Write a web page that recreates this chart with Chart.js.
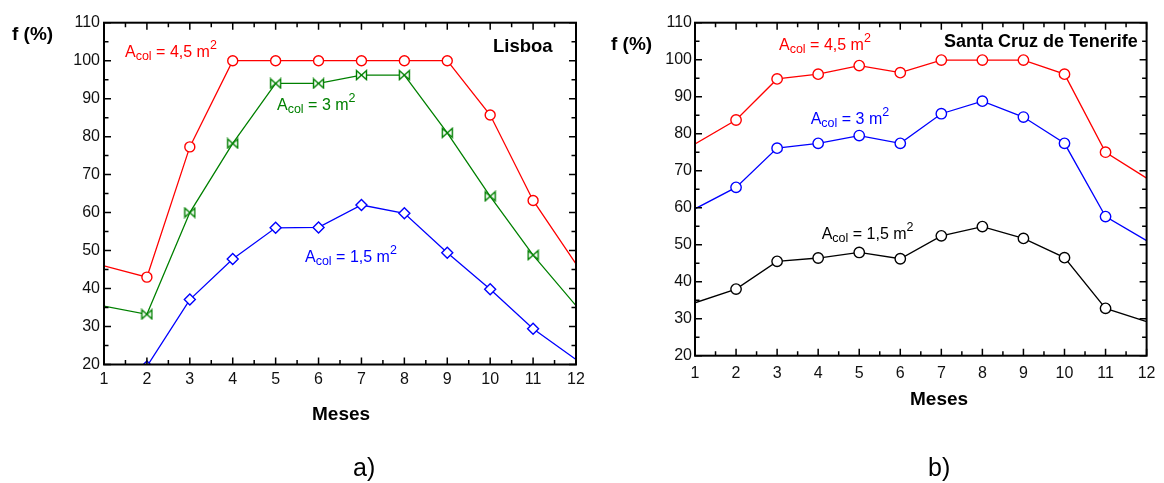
<!DOCTYPE html>
<html>
<head>
<meta charset="utf-8">
<script src="https://cdn.jsdelivr.net/npm/chart.js@4"></script>
<style>
  body { margin: 0; background: #fff; width: 1164px; height: 483px; position: relative; overflow: hidden;
         font-family: 'Liberation Sans', Arial, sans-serif; }
  .box { position: absolute; }
  .t { position: absolute; white-space: nowrap; line-height: 1; }
  .b { font-weight: bold; color: #000; }
  .ann { font-size: 16px; }
  .ann .sb { font-size: 12.5px; vertical-align: -2.5px; line-height: 0; }
  .ann .sp { font-size: 12.5px; vertical-align: 8px; line-height: 0; }
</style>
</head>
<body>
<div class="box" style="left:0;top:0;width:600px;height:440px"><canvas id="lis"></canvas></div>
<div class="box" style="left:590px;top:0;width:574px;height:440px"><canvas id="ten"></canvas></div>

<div class="t b" style="left:12px;top:23.9px;font-size:19px">f (%)</div>
<div class="t b" style="left:611px;top:33.9px;font-size:19px">f (%)</div>
<div class="t b" style="left:493px;top:36.5px;font-size:18.5px">Lisboa</div>
<div class="t b" style="left:944px;top:31.5px;font-size:18px">Santa Cruz de Tenerife</div>
<div class="t b" style="left:312px;top:403.9px;font-size:19px">Meses</div>
<div class="t b" style="left:910px;top:388.6px;font-size:19px">Meses</div>
<div class="t" style="left:353px;top:455px;font-size:25px;color:#000">a)</div>
<div class="t" style="left:928px;top:455px;font-size:25px;color:#000">b)</div>

<div class="t ann" style="left:125px;top:43.8px;color:#ff0000">A<span class="sb">col</span> = 4,5 m<span class="sp">2</span></div>
<div class="t ann" style="left:277px;top:96.5px;color:#008000">A<span class="sb">col</span> = 3 m<span class="sp">2</span></div>
<div class="t ann" style="left:305px;top:249px;color:#0000ff">A<span class="sb">col</span> = 1,5 m<span class="sp">2</span></div>
<div class="t ann" style="left:779px;top:36.5px;color:#ff0000">A<span class="sb">col</span> = 4,5 m<span class="sp">2</span></div>
<div class="t ann" style="left:810.7px;top:110.5px;color:#0000ff">A<span class="sb">col</span> = 3 m<span class="sp">2</span></div>
<div class="t ann" style="left:821.7px;top:225.8px;color:#000">A<span class="sb">col</span> = 1,5 m<span class="sp">2</span></div>

<script>
// meses
const months = [1, 2, 3, 4, 5, 6, 7, 8, 9, 10, 11, 12];
const yTicks = [20, 30, 40, 50, 60, 70, 80, 90, 100, 110];

// a) Lisboa
const lisboa45 = [46, 43, 77.3, 100, 100, 100, 100, 100, 100, 85.7, 63.2, 46.5];
const lisboa30 = [35.4, 33.2, 60, 78.2, 94, 94, 96.2, 96.2, 81, 64.3, 48.8, 35.5];
const lisboa15 = [17, 19.5, 37.1, 47.8, 56, 56.1, 62, 59.8, 49.4, 39.8, 29.4, 21.3];

// b) Santa Cruz de Tenerife
const tenerife45 = [77.2, 83.7, 94.8, 96.1, 98.4, 96.5, 99.9, 99.9, 99.9, 96.1, 75, 68];
const tenerife30 = [59.7, 65.5, 76.1, 77.4, 79.5, 77.4, 85.4, 88.8, 84.5, 77.4, 57.6, 51.1];
const tenerife15 = [34.3, 38, 45.5, 46.4, 47.9, 46.2, 52.4, 54.9, 51.7, 46.5, 32.8, 29.2];

const pts = vals => months.map((m, i) => ({ x: m, y: vals[i] }));

// bowtie marker for the green series
function bowtie(color) {
  const c = document.createElement('canvas');
  c.width = 13; c.height = 12;
  const g = c.getContext('2d');
  g.beginPath();
  g.moveTo(1.5, 1.5); g.lineTo(11.5, 10.5); g.lineTo(11.5, 1.5); g.lineTo(1.5, 10.5); g.closePath();
  g.fillStyle = '#fff'; g.fill();
  g.strokeStyle = color; g.lineWidth = 1.4; g.stroke();
  return c;
}

// frame with inner ticks on all four sides
const frame = {
  id: 'frame',
  afterDraw(chart) {
    const { ctx, chartArea: a, scales: { x, y } } = chart;
    ctx.save();
    ctx.strokeStyle = '#000';
    ctx.lineWidth = 1.5;
    ctx.beginPath();
    for (let v = x.min; v <= x.max + 0.01; v += 0.5) {
      const px = x.getPixelForValue(v), len = v % 1 === 0 ? 7 : 4.5;
      ctx.moveTo(px, a.bottom); ctx.lineTo(px, a.bottom - len);
      ctx.moveTo(px, a.top); ctx.lineTo(px, a.top + len);
    }
    for (let v = y.min; v <= y.max + 0.01; v += 5) {
      const py = y.getPixelForValue(v), len = v % 10 === 0 ? 7 : 4.5;
      ctx.moveTo(a.left, py); ctx.lineTo(a.left + len, py);
      ctx.moveTo(a.right, py); ctx.lineTo(a.right - len, py);
    }
    ctx.stroke();
    ctx.lineWidth = 2;
    ctx.strokeRect(a.left, a.top, a.right - a.left, a.bottom - a.top);
    ctx.restore();
  }
};

const edgeHidden = r => c => (c.dataIndex === 0 || c.dataIndex === months.length - 1) ? 0 : r;

function series(vals, color, style, r) {
  return {
    data: pts(vals),
    borderColor: color,
    borderWidth: 1.3,
    pointStyle: style,
    pointRadius: edgeHidden(r),
    pointBorderColor: color,
    pointBackgroundColor: '#fff',
    pointBorderWidth: 1.4,
    tension: 0
  };
}

function makeChart(id, datasets, yWidth, xHeight, padRight, xPad, yPad) {
  const tickFont = { family: "'Liberation Sans', Arial, sans-serif", size: 16 };
  return new Chart(document.getElementById(id), {
    type: 'line',
    data: { datasets },
    options: {
      responsive: true,
      maintainAspectRatio: false,
      animation: false,
      events: [],
      layout: { padding: { left: 0, right: padRight, top: 22.7, bottom: 0 } },
      plugins: { legend: { display: false }, tooltip: { enabled: false } },
      scales: {
        x: {
          type: 'linear', min: 1, max: 12,
          grid: { display: false, drawTicks: false },
          border: { display: false },
          ticks: { stepSize: 1, padding: xPad, color: '#111', font: tickFont, maxRotation: 0 },
          afterFit: s => { s.height = xHeight; }
        },
        y: {
          min: yTicks[0], max: yTicks[yTicks.length - 1],
          grid: { display: false, drawTicks: false },
          border: { display: false },
          afterBuildTicks: s => { s.ticks = yTicks.map(v => ({ value: v })); },
          ticks: { padding: yPad, color: '#111', font: tickFont },
          afterFit: s => { s.width = yWidth; }
        }
      }
    },
    plugins: [frame]
  });
}

makeChart('lis', [
  series(lisboa45, '#ff0000', 'circle', 5),
  series(lisboa30, '#008000', bowtie('#008000'), 5),
  series(lisboa15, '#0000ff', 'rectRot', 5.5)
], 104, 75.5, 24, 5, 4);

makeChart('ten', [
  series(tenerife45, '#ff0000', 'circle', 5.2),
  series(tenerife30, '#0000ff', 'circle', 5.2),
  series(tenerife15, '#000000', 'circle', 5.2)
], 105, 84.3, 11, 8.5, 3);
</script>
</body>
</html>
